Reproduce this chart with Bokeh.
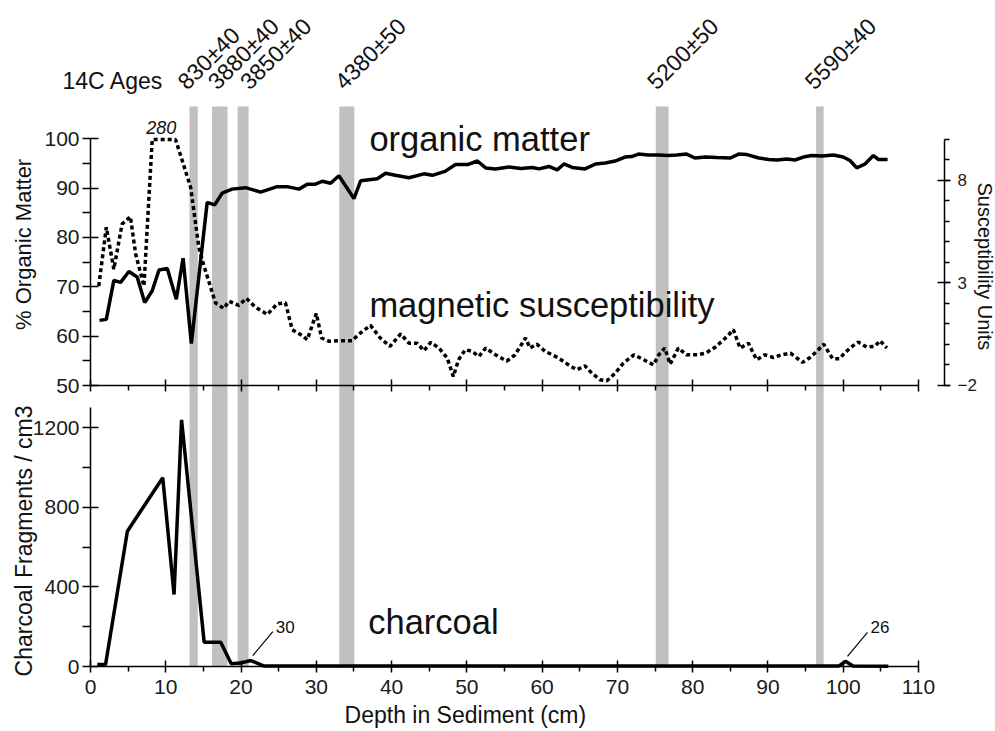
import numpy as np
from bokeh.plotting import figure
from bokeh.models import Range1d, LinearAxis, FixedTicker, Label
from bokeh.embed import file_html
from bokeh.resources import INLINE

# ---------------- data ----------------
om_depth = [1.2, 2.1, 3.1, 4.0, 5.1, 6.2, 7.2, 8.2, 9.1, 10.2, 11.4, 12.3, 13.4, 15.5, 16.5,
            17.5, 18.8, 20.6, 22.6, 24.8, 26.1, 27.7, 28.8, 29.9, 30.8, 31.9, 33.0, 35.0, 35.9,
            38.1, 39.2, 40.5, 42.3, 44.3, 45.4, 47.1, 48.5, 50.2, 51.4, 52.5, 53.8, 55.6, 57.2,
            58.7, 59.6, 60.9, 62.0, 62.9, 64.0, 65.7, 67.1, 68.4, 69.7, 71.0, 71.9, 72.8, 74.1,
            75.5, 76.7, 77.9, 79.2, 80.3, 81.7, 83.2, 85.0, 86.1, 87.2, 88.8, 90.1, 91.2, 92.5,
            93.6, 94.7, 95.8, 97.2, 98.7, 100.0, 100.9, 101.8, 102.9, 104.0, 104.7, 105.9]
om_pct = [63.2, 63.4, 71.3, 70.9, 73.1, 72.0, 66.8, 69.2, 73.4, 73.7, 67.5, 75.8, 58.5, 87.1, 86.6,
          89.0, 89.8, 90.1, 89.2, 90.3, 90.3, 89.8, 90.8, 90.8, 91.4, 91.0, 92.5, 87.9, 91.5,
          91.9, 93.0, 92.6, 92.1, 92.9, 92.6, 93.4, 94.8, 94.8, 95.5, 94.1, 93.9, 94.3, 94.0,
          94.2, 93.9, 94.4, 93.7, 94.9, 94.2, 93.9, 94.9, 95.1, 95.5, 96.3, 96.4, 96.9, 96.7,
          96.7, 96.6, 96.7, 96.9, 96.1, 96.3, 96.2, 96.1, 96.9, 96.8, 96.1, 95.8, 95.7, 95.9,
          95.7, 96.3, 96.6, 96.5, 96.7, 96.3, 95.6, 94.1, 94.9, 96.6, 95.8, 95.8]

# magnetic susceptibility (values above the axis top, peak 280, are drawn at the axis top)
ms_depth = [1.1, 2.1, 3.1, 4.2, 5.3, 6.0, 7.1, 8.2, 11.3, 13.3, 14.4, 15.0, 16.6, 17.7, 18.4,
            19.7, 20.7, 21.9, 23.5, 24.8, 25.9, 26.8, 27.9, 28.8, 30.0, 30.7, 31.7, 33.4, 34.8,
            35.6, 37.2, 38.5, 39.8, 41.2, 42.3, 43.4, 44.3, 45.2, 46.3, 47.4, 48.2, 48.9, 49.8,
            50.7, 51.6, 52.5, 53.8, 55.3, 56.4, 57.8, 58.4, 59.3, 60.4, 62.2, 63.5, 64.6, 65.7,
            66.6, 67.7, 68.6, 69.7, 70.8, 72.2, 73.5, 74.8, 75.5, 76.3, 77.0, 78.1, 79.2, 80.6,
            81.7, 83.0, 84.6, 85.4, 86.3, 87.4, 88.5, 89.6, 90.7, 91.8, 93.0, 94.6, 95.6, 96.5,
            97.4, 98.6, 99.5, 100.3, 101.2, 102.0, 103.1, 104.2, 104.9, 105.8]
ms_units = [2.84, 5.71, 3.66, 5.87, 6.23, 4.40, 2.84, 10.0, 10.0, 7.67, 4.72, 3.91, 2.02, 1.74, 2.10,
            1.89, 2.24, 1.81, 1.45, 1.97, 2.02, 0.71, 0.47, 0.22, 1.50, 0.30, 0.14, 0.17, 0.17,
            0.47, 0.92, 0.30, -0.11, 0.50, 0.05, 0.05, -0.32, 0.09, -0.19, -0.68, -1.58, -0.76, -0.27,
            -0.35, -0.60, -0.19, -0.52, -0.83, -0.52, 0.30, -0.19, 0.00, -0.35, -0.68, -1.01, -1.25, -1.06,
            -1.42, -1.74, -1.79, -1.42, -0.93, -0.52, -0.76, -1.01, -0.52, -0.19, -0.98, -0.19, -0.52, -0.52,
            -0.44, -0.15, 0.38, 0.71, -0.19, 0.05, -0.76, -0.52, -0.65, -0.52, -0.44, -0.89, -0.65, -0.35,
            0.00, -0.71, -0.71, -0.39, -0.11, 0.10, -0.14, -0.11, 0.17, -0.19]
ms_peak_label = "280"
ms_peak_depth = 9.4

ch_depth = [0.9, 2.0, 4.9, 9.6, 11.1, 12.1, 15.1, 17.3, 18.7, 19.9, 21.3, 23.0, 40.0, 60.0,
            80.0, 99.4, 100.3, 101.3, 106.0]
ch_count = [10, 10, 680, 949, 362, 1240, 122, 122, 14, 17, 30, 3, 2, 2, 2, 2, 26, 2, 1]
ch_callout_depths = [21.3, 100.3]

age_labels = ["830\u00b140", "3880\u00b140", "3850\u00b140", "4380\u00b150", "5200\u00b150", "5590\u00b140"]
age_bar_start = [13.15, 16.15, 19.55, 33.05, 75.1, 96.4]
age_bar_end = [14.25, 18.2, 21.0, 35.05, 76.8, 97.4]

x_ticks = list(range(0, 111, 10))
x_minor = list(range(5, 110, 10))
om_ticks = [50, 60, 70, 80, 90, 100]
om_minor = [55, 65, 75, 85, 95]
ch_ticks = [0, 400, 800, 1200]
ch_minor = [200, 600, 1000]
ms_ticks = [-2, 3, 8]
ms_minor = list(range(-2, 11))

# ---------------- layout (pixel anchors of the scales on the canvas) ----------------
FONT = "Liberation Sans"
W, H = 995, 731
X0_PX, X_PPU = 90.0, 7.527          # depth 0 at x=90 px, px per cm
CH0_PX, CH_PPU = 666.0, 0.19892     # charcoal 0 at y=666 px
OM50_PX, OM_PPU = 385.0, 4.934      # 50 % at y=385 px
MS_PX, MS_PPU = 384.6, 20.47        # -2 units at y=384.6 px
BAR_TOP_PX = 106.0
RIGHT_AXIS_PX = 944.0
MS_TOP = 10


def xr():
    return Range1d(-X0_PX / X_PPU, (W - X0_PX) / X_PPU)


def yr(v0, py0, ppu):
    return Range1d(v0 - (H - py0) / ppu, v0 + py0 / ppu)


p = figure(width=W, height=H, x_range=xr(), y_range=yr(0, CH0_PX, CH_PPU),
           output_backend="svg", toolbar_location=None,
           x_axis_location=None, y_axis_location=None,
           min_border_left=0, min_border_right=0, min_border_top=0, min_border_bottom=0)
p.outline_line_color = None
p.xgrid.grid_line_color = None
p.ygrid.grid_line_color = None
p.background_fill_color = "white"
p.extra_y_ranges = {"om": yr(50, OM50_PX, OM_PPU), "ms": yr(-2, MS_PX, MS_PPU)}

GRAY = "#c0c0c0"
bar_top = (CH0_PX - BAR_TOP_PX) / CH_PPU
p.quad(left=age_bar_start, right=age_bar_end, bottom=0, top=bar_top,
       fill_color=GRAY, line_color=None, level="underlay")

p.line(om_depth, om_pct, y_range_name="om", line_color="black", line_width=3.5)
p.line(ms_depth, np.minimum(ms_units, MS_TOP), y_range_name="ms", line_color="black",
       line_width=3.5, line_dash="4 3")
p.line(ch_depth, ch_count, line_color="black", line_width=3.5)


def style_axis(ax, tick_in, tick_out, minor_out, fs="21px", standoff=4):
    ax.axis_line_color = "black"
    ax.axis_line_width = 1.5
    ax.major_tick_line_width = 1.5
    ax.minor_tick_line_width = 1.5
    ax.major_tick_in = tick_in
    ax.major_tick_out = tick_out
    ax.minor_tick_in = 0
    ax.minor_tick_out = minor_out
    ax.major_label_text_font = FONT
    ax.major_label_text_font_size = fs
    ax.major_label_text_color = "#1a1a1a"
    ax.major_label_standoff = standoff


# left axis, top panel
ax_om = LinearAxis(y_range_name="om", fixed_location=0, bounds=(50, 100),
                   ticker=FixedTicker(ticks=om_ticks, minor_ticks=om_minor))
style_axis(ax_om, 8, 8, 8, standoff=3)
p.add_layout(ax_om, "left")

# left axis, bottom panel
ax_ch = LinearAxis(fixed_location=0, bounds=(0, 1300),
                   ticker=FixedTicker(ticks=ch_ticks, minor_ticks=ch_minor))
style_axis(ax_ch, 8, 8, 8, standoff=3)
p.add_layout(ax_ch, "left")

# right axis (susceptibility)
ax_ms = LinearAxis(y_range_name="ms", fixed_location=(RIGHT_AXIS_PX - X0_PX) / X_PPU,
                   bounds=(-2, 10), ticker=FixedTicker(ticks=ms_ticks, minor_ticks=ms_minor))
style_axis(ax_ms, 7, 6, 5, fs="17px", standoff=7)
p.add_layout(ax_ms, "right")

# x axis of the top panel (no labels)
ax_xt = LinearAxis(y_range_name="om", fixed_location=50, bounds=(0, 110),
                   ticker=FixedTicker(ticks=x_ticks, minor_ticks=x_minor))
style_axis(ax_xt, 6, 6, 5)
ax_xt.major_label_text_color = None
p.add_layout(ax_xt, "below")

# bottom x axis
ax_xb = LinearAxis(fixed_location=0, bounds=(0, 110),
                   ticker=FixedTicker(ticks=x_ticks, minor_ticks=x_minor))
style_axis(ax_xb, 6, 6, 5, standoff=7)
p.add_layout(ax_xb, "below")


def label(text, x, y, rng="default", size="20px", **kw):
    opts = dict(x=x, y=y, text=text, text_font=FONT, text_font_size=size, text_color="#111111")
    if rng != "default":
        opts["y_range_name"] = rng
    opts.update(kw)
    p.add_layout(Label(**opts))


# axis titles
label("% Organic Matter", -8.9, 78.6, "om", "22px", angle=np.pi / 2,
      text_align="center", text_baseline="middle")
label("Charcoal Fragments / cm3", -8.9, 631, "default", "23px", angle=np.pi / 2,
      text_align="center", text_baseline="middle")
label("Susceptibility Units", 118.9, 3.8, "ms", "20px", angle=-np.pi / 2,
      text_align="center", text_baseline="middle")
label("Depth in Sediment (cm)", 49.8, -243, "default", "23px",
      text_align="center", text_baseline="middle")

# series names (baseline correction of the renderer: lift alphabetic text a little)
BIG = 34.5
label("organic matter", 37.05, 97.8, "om", f"{BIG}px", text_align="left",
      text_baseline="alphabetic", y_offset=0.3 * BIG)
label("magnetic susceptibility", 37.05, 64.85, "om", f"{BIG}px", text_align="left",
      text_baseline="alphabetic", y_offset=0.3 * BIG - 3)
label("charcoal", 36.9, 171, "default", f"{BIG}px", text_align="left",
      text_baseline="alphabetic", y_offset=0.3 * BIG)

# 14C ages
label("14C Ages", -3.72, 110.4, "om", "23px", text_align="left", text_baseline="alphabetic",
      y_offset=0.3 * 23)
AGE_FS = 23
age_dx = [-12, -8, 1, -8, -11, -11]
for txt, s, e, dx in zip(age_labels, age_bar_start, age_bar_end, age_dx):
    label(txt, (s + e) / 2, 110.0, "om", f"{AGE_FS}px", angle=np.pi / 4,
          x_offset=dx, y_offset=4,
          text_align="left", text_baseline="alphabetic")

# off-scale peak of susceptibility
label(ms_peak_label, ms_peak_depth, 102.3, "om", "18px", text_font_style="italic",
      text_align="center", text_baseline="middle")

# charcoal call-outs
for d in ch_callout_depths:
    i = ch_depth.index(d)
    v = ch_count[i]
    x0 = d + 2 / X_PPU
    y0 = v + 5 / CH_PPU
    x1 = d + 22 / X_PPU
    y1 = v + 29 / CH_PPU
    p.segment(x0=[x0], y0=[y0], x1=[x1], y1=[y1], line_color="black", line_width=1.2)
    label(str(v), x1, y1, "default", "17px", x_offset=3, y_offset=5,
          text_align="left", text_baseline="middle")

open("out.html", "w").write(file_html(p, INLINE))
